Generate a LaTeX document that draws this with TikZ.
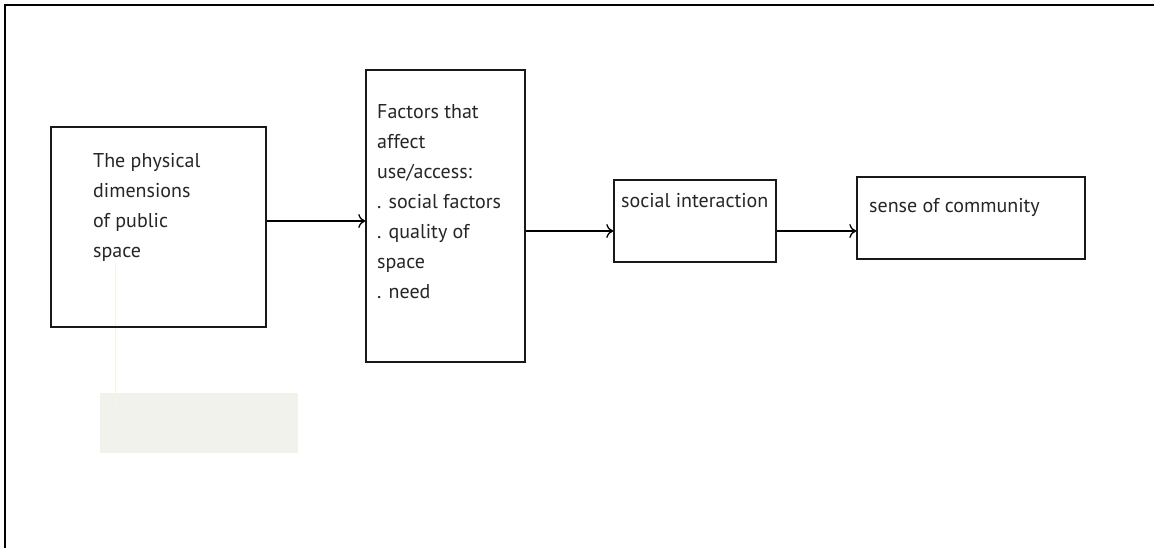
\documentclass[tikz,border=0pt]{standalone}
\usepackage{fontspec}
\setmainfont{PT Sans}
\usetikzlibrary{arrows.meta}
\begin{document}
\begin{tikzpicture}[x=1pt,y=-1pt,
  box/.style={draw=black!90, line width=1.4pt, minimum width=#1, inner sep=0pt},
  txt/.style={anchor=north west, inner sep=0pt, align=left, font=\fontsize{20}{30}\selectfont, text=black!85},
  arr/.style={line width=1.3pt, -{To[length=7pt,width=14pt,line width=1.3pt]}}]
\useasboundingbox (0,0) rectangle (1154,548);
\fill[white] (0,0) rectangle (1154,548);
% outer frame
\draw[line width=2.8pt] (5,548) -- (5,5) -- (1154,5);
% faint background shapes
\fill[fill={rgb,255:red,242;green,242;blue,236}] (100,393) rectangle (298,453);
\draw[draw={rgb,255:red,245;green,245;blue,228}, line width=1pt] (115,262) -- (115,415);
% boxes
\node[box=215pt, minimum height=200pt] (b1) at (158.5,227) {};
\node[box=159pt, minimum height=292pt] (b2) at (445.5,216) {};
\node[box=162pt, minimum height=82pt] (b3) at (695,221) {};
\node[box=228pt, minimum height=82pt] (b4) at (971,218) {};
% texts
\node[txt] (t1) at (93,153.5) {The physical\\dimensions\\of public\\space};
\node[txt] (t2) at (377,104.5) {Factors that\\affect\\use/access:\\. social factors\\. quality of\\space\\. need};
\node[txt] (t3) at (621,193.5) {social interaction};
\node[txt] (t4) at (869,198.5) {sense of community};
% arrows
\draw[arr] (b1.east |- 0,221) -- (b2.west |- 0,221);
\draw[arr] (b2.east |- 0,231) -- (b3.west |- 0,231);
\draw[arr] (b3.east |- 0,231) -- (b4.west |- 0,231);
\end{tikzpicture}
\end{document}
